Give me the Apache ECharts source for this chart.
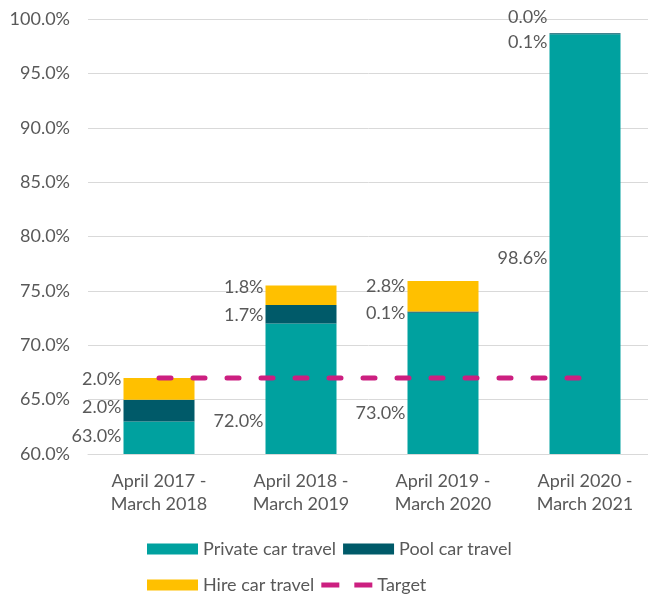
<!DOCTYPE html>
<html>
<head>
<meta charset="utf-8">
<script src="https://cdn.jsdelivr.net/npm/echarts@6/dist/echarts.min.js"></script>
<style>
  html, body { margin: 0; padding: 0; background: #fff; }
  #main { width: 648px; height: 594px; }
</style>
</head>
<body>
<div id="main"></div>
<script>
var categories = ['April 2017 -\nMarch 2018', 'April 2018 -\nMarch 2019', 'April 2019 -\nMarch 2020', 'April 2020 -\nMarch 2021'];
var privateCar = [63.0, 72.0, 73.0, 98.6];
var poolCar = [2.0, 1.7, 0.1, 0.1];
var hireCar = [2.0, 1.8, 2.8, 0.0];
var target = [67, 67, 67, 67];
var yTicks = { min: 60, max: 100, step: 5 };

var myChart = echarts.init(document.getElementById('main'));
var font = 'Lato, "Open Sans", sans-serif';
var grey = '#595959';
var magenta = '#CC1F80';

// label nudges to follow the hand-placed labels of the original
function labelled(values, nudges) {
    return values.map(function (v, i) {
        return { value: v, label: { offset: [0, nudges[i]] } };
    });
}

var pctLabel = {
    show: true,
    position: 'left',
    distance: 2,
    color: grey,
    fontFamily: font,
    fontSize: 18,
    formatter: function (p) { return p.value.toFixed(1) + '%'; }
};

var legendBase = {
    left: 142,
    itemWidth: 51,
    itemHeight: 11,
    itemGap: 7,
    textStyle: { color: grey, fontFamily: font, fontSize: 18, width: 138 }
};
var dashIcon = 'path://M0,0h0.1v0.1h-0.1z M0,3h18v5h-18z M33,3h18v5h-18z M50.9,10.9h0.1v0.1h-0.1z';

var option = {
    animation: false,
    grid: { left: 88, width: 568, top: 19, bottom: 140, outerBoundsMode: 'none' },
    legend: [
        Object.assign({}, legendBase, {
            top: 535,
            data: [
                { name: 'Private car travel', icon: 'rect' },
                { name: 'Pool car travel', icon: 'rect' }
            ]
        }),
        Object.assign({}, legendBase, {
            top: 571,
            data: [
                { name: 'Hire car travel', icon: 'rect' },
                { name: 'Target', icon: dashIcon, itemStyle: { color: magenta, borderWidth: 0 } }
            ]
        })
    ],
    xAxis: {
        type: 'category',
        data: categories,
        axisLine: { lineStyle: { color: '#d9d9d9' } },
        axisTick: { show: false },
        axisLabel: { color: grey, fontFamily: font, fontSize: 18, lineHeight: 23, margin: 16 }
    },
    yAxis: {
        type: 'value',
        min: yTicks.min,
        max: yTicks.max,
        interval: yTicks.step,
        axisLine: { show: false },
        axisTick: { show: false },
        splitLine: { lineStyle: { color: '#d9d9d9', width: 1 } },
        axisLabel: {
            color: grey, fontFamily: font, fontSize: 18, margin: 18,
            formatter: function (v) { return v.toFixed(1) + '%'; }
        }
    },
    series: [
        {
            name: 'Private car travel',
            type: 'bar',
            stack: 'car',
            barWidth: '50%',
            itemStyle: { color: '#00A19F' },
            label: pctLabel,
            data: labelled(privateCar, [-2, 32, 30, 14])
        },
        {
            name: 'Pool car travel',
            type: 'bar',
            stack: 'car',
            itemStyle: { color: '#005A69' },
            label: pctLabel,
            data: labelled(poolCar, [-3, 1, 1, 9])
        },
        {
            name: 'Hire car travel',
            type: 'bar',
            stack: 'car',
            itemStyle: { color: '#FFC000' },
            label: pctLabel,
            data: labelled(hireCar, [-10, -8, -10, -16])
        },
        {
            name: 'Target',
            type: 'line',
            symbol: 'none',
            z: 5,
            itemStyle: { color: magenta },
            lineStyle: { color: magenta, width: 5, type: [12, 22], cap: 'round' },
            data: target
        }
    ]
};
myChart.setOption(option);
</script>
</body>
</html>
